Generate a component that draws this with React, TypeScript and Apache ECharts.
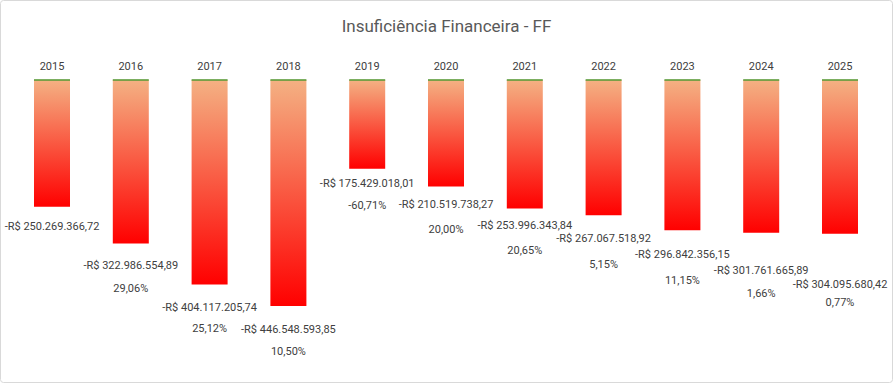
import React, { useEffect, useRef } from "react";
import * as echarts from "echarts";

const years = ["2015", "2016", "2017", "2018", "2019", "2020", "2021", "2022", "2023", "2024", "2025"];
const values = [
  -250269366.72, -322986554.89, -404117205.74, -446548593.85, -175429018.01, -210519738.27,
  -253996343.84, -267067518.92, -296842356.15, -301761665.89, -304095680.42,
];
const changes: (number | null)[] = [null, 29.06, 25.12, 10.5, -60.71, 20.0, 20.65, 5.15, 11.15, 1.66, 0.77];
const zeroLine = years.map(() => 0);

// label placement (px below bar end for the value line; px between value and % lines)
const labelDrop = [20.3, 22.3, 22.6, 23.3, 14.6, 18.3, 17.3, 23.6, 24.6, 38.3, 50.6];
const labelGap = [23, 23, 21.7, 22, 21.7, 25, 24.7, 26, 25.7, 22.3, 18.4];

function fmtBRL(v: number): string {
  const neg = v < 0;
  const abs = Math.abs(v);
  const [intPart, dec] = abs.toFixed(2).split(".");
  const withDots = intPart.replace(/\B(?=(\d{3})+(?!\d))/g, ".");
  return (neg ? "-" : "") + "R$ " + withDots + "," + dec;
}
function fmtPct(p: number): string {
  return p.toFixed(2).replace(".", ",") + "%";
}

const FONT = "Roboto";
const LH_A = 23;

export default function App() {
  const ref = useRef<HTMLDivElement>(null);
  useEffect(() => {
    if (!ref.current) return;
    const chart = echarts.init(ref.current, null, { renderer: "svg" });
    const barData = values.map((v, i) => {
      const c = changes[i];
      const lhB = 2 * (labelGap[i] - LH_A / 2);
      return {
        value: v,
        label: {
          show: true,
          position: "outside",
          distance: labelDrop[i] - LH_A / 2,
          formatter: c === null ? `{a|${fmtBRL(v)}}` : `{a|${fmtBRL(v)}}\n{b|${fmtPct(c)}}`,
          rich: {
            a: { fontFamily: FONT, fontSize: 11, color: "#404040", lineHeight: LH_A, align: "center" },
            b: { fontFamily: FONT, fontSize: 11, color: "#404040", lineHeight: lhB, align: "center" },
          },
        },
      };
    });
    chart.setOption({
      animation: false,
      backgroundColor: "#ffffff",
      title: {
        text: "Insuficiência Financeira - FF",
        left: "center",
        top: 12,
        textStyle: { fontFamily: FONT, fontSize: 17, fontWeight: "normal", color: "#595959" },
      },
      graphic: [
        {
          type: "rect",
          shape: { x: 0.5, y: 0.5, width: 892, height: 382, r: 3 },
          style: { fill: "none", stroke: "#d9d9d9", lineWidth: 1 },
          silent: true,
        },
      ],
      grid: { left: 12.6, right: 13.6, top: 80, bottom: 50 },
      xAxis: {
        type: "category",
        data: years,
        position: "top",
        axisLine: { show: false },
        axisTick: { show: false },
        axisLabel: { fontFamily: FONT, fontSize: 11, color: "#404040", margin: 8 },
      },
      yAxis: {
        type: "value",
        min: -500000000,
        max: 0,
        show: false,
        splitLine: { show: false },
      },
      series: [
        {
          type: "bar",
          data: barData,
          barWidth: 36,
          itemStyle: {
            color: new echarts.graphic.LinearGradient(0, 0, 0, 1, [
              { offset: 0, color: "#F4B183" },
              { offset: 1, color: "#FF0000" },
            ]),
          },
        },
        {
          type: "scatter",
          data: zeroLine,
          symbol: "rect",
          symbolSize: [36, 2],
          itemStyle: { color: "#5B9B3A" },
          z: 5,
          silent: true,
        },
      ],
    });
    return () => chart.dispose();
  }, []);
  return (
    <div
      ref={ref}
      style={{ position: "fixed", left: 0, top: 0, width: 893, height: 383 }}
    />
  );
}
